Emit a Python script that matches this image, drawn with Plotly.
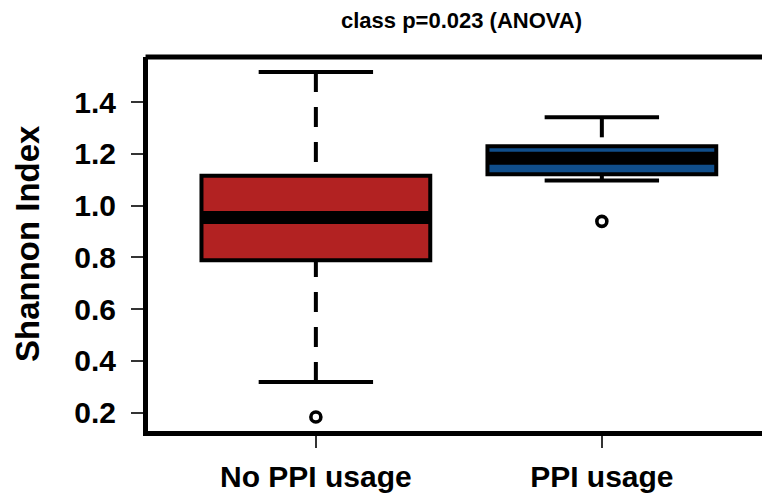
import plotly.graph_objects as go

# Shannon diversity by PPI usage (box summary statistics)
categories = ["No PPI usage", "PPI usage"]
positions = [1, 2]
q1 = [0.789, 1.121]
median = [0.954, 1.183]
q3 = [1.115, 1.229]
whisker_low = [0.318, 1.097]
whisker_high = [1.516, 1.341]
outliers = [[0.183], [0.939]]
fill_colors = ["#B22222", "#104E8B"]
y_ticks = [0.2, 0.4, 0.6, 0.8, 1.0, 1.2, 1.4]

FONT = "Liberation Sans, Arial, Helvetica, sans-serif"
BOX_HALF = 0.4
CAP_HALF = 0.2
LW = 4
FRAME_W = 5

fig = go.Figure()

for i, pos in enumerate(positions):
    # dashed whiskers, drawn from the whisker end toward the hinge
    for end, hinge in ((whisker_high[i], q3[i]), (whisker_low[i], q1[i])):
        fig.add_trace(go.Scatter(
            x=[pos, pos], y=[end, hinge], mode="lines",
            line=dict(color="black", width=LW, dash="20px,15px"),
            showlegend=False, hoverinfo="skip"))
        # staple
        fig.add_trace(go.Scatter(
            x=[pos - CAP_HALF, pos + CAP_HALF], y=[end, end], mode="lines",
            line=dict(color="black", width=LW),
            showlegend=False, hoverinfo="skip"))

    # box body
    fig.add_trace(go.Box(
        x=[pos], q1=[q1[i]], median=[median[i]], q3=[q3[i]],
        lowerfence=[q1[i]], upperfence=[q3[i]],
        width=2 * BOX_HALF, fillcolor=fill_colors[i],
        line=dict(color="black", width=4),
        boxpoints=False, showlegend=False, hoverinfo="skip"))

    # heavy median bar
    fig.add_trace(go.Scatter(
        x=[pos - BOX_HALF, pos + BOX_HALF], y=[median[i], median[i]],
        mode="lines", line=dict(color="black", width=13),
        showlegend=False, hoverinfo="skip"))

    # outliers
    fig.add_trace(go.Scatter(
        x=[pos] * len(outliers[i]), y=outliers[i], mode="markers",
        marker=dict(symbol="circle-open", size=10, color="black",
                    line=dict(width=3.6, color="black")),
        showlegend=False, hoverinfo="skip"))

fig.update_layout(
    width=762, height=493,
    margin=dict(l=148, r=0, t=57, b=56),
    paper_bgcolor="white", plot_bgcolor="white",
    font=dict(family=FONT, color="black"),
    xaxis=dict(
        range=[0.413, 2.56], tickvals=positions, ticktext=categories,
        showgrid=False, zeroline=False,
        showline=True, linecolor="black", linewidth=FRAME_W,
        ticks="outside", ticklen=12, tickwidth=1.5, tickcolor="#333",
        tickfont=dict(family=FONT, size=30, color="black", weight="bold"),
        ticklabelstandoff=3,
    ),
    yaxis=dict(
        range=[0.129, 1.574], tickvals=y_ticks, tickformat=".1f",
        showgrid=False, zeroline=False,
        showline=True, linecolor="black", linewidth=FRAME_W,
        ticks="outside", ticklen=12, tickwidth=1.5, tickcolor="#333",
        tickfont=dict(family=FONT, size=30, color="black", weight="bold"),
        ticklabelstandoff=9,
    ),
    shapes=[dict(type="line", xref="paper", yref="paper",
                 x0=-0.004, x1=1.0, y0=1, y1=1,
                 line=dict(color="black", width=FRAME_W))],
    annotations=[
        dict(text="<b>class p=0.023 (ANOVA)</b>", xref="paper", yref="paper",
             x=0.51, y=1.097, xanchor="center", yanchor="middle",
             showarrow=False, font=dict(family=FONT, size=22, color="black")),
        dict(text="<b>Shannon Index</b>", xref="paper", yref="paper",
             x=-0.197, y=0.5, xanchor="center", yanchor="middle",
             textangle=-90, showarrow=False,
             font=dict(family=FONT, size=33, color="black")),
    ],
)

fig.write_html("out.html")
